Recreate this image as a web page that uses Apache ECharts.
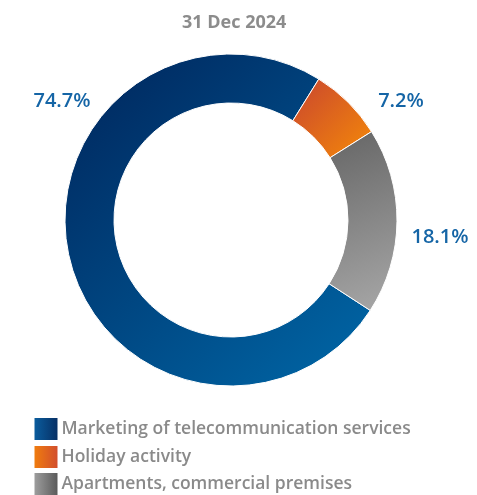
<!DOCTYPE html>
<html>
<head>
<meta charset="utf-8">
<script src="https://cdn.jsdelivr.net/npm/echarts@6/dist/echarts.min.js"></script>
<style>
  html, body { margin: 0; padding: 0; background: #ffffff; }
  #chart { width: 477px; height: 495px; }
</style>
</head>
<body>
<div id="chart"></div>
<script>
// Revenue structure by activity, 31 Dec 2024
const titleText = '31 Dec 2024';
const categories = [
  'Marketing of telecommunication services',
  'Holiday activity',
  'Apartments, commercial premises'
];
const shares = [74.7, 7.2, 18.1];

// Slice fills (diagonal gradients) and legend swatch fills (horizontal)
const sliceStops = [
  ['#00245a', '#0068a8'],
  ['#c9452f', '#f58a08'],
  ['#656565', '#a8a8a8']
];
const swatchStops = [
  ['#0b60a2', '#062c60'],
  ['#f2800c', '#cf4a2f'],
  ['#a3a3a3', '#555555']
];
// Label anchor points for each slice's percentage
const labelSpots = [
  [62, 101],
  [401, 101],
  [440, 237]
];
// Top edge of each legend row
const legendRowTops = [416, 444, 471];

const FONT = '"Open Sans", sans-serif';

function grad(stops, x2, y2) {
  return new echarts.graphic.LinearGradient(0, 0, x2, y2, [
    { offset: 0, color: stops[0] },
    { offset: 1, color: stops[1] }
  ]);
}

const chart = echarts.init(document.getElementById('chart'), null, { renderer: 'canvas' });

// One legend block per row so every row sits at its own fixed line
const legends = categories.map((name, i) => ({
  orient: 'vertical',
  left: 32.5,
  top: legendRowTops[i],
  padding: 0,
  itemWidth: 25,
  itemHeight: 24,
  icon: 'rect',
  selectedMode: false,
  textStyle: {
    fontFamily: FONT,
    fontSize: 17.5,
    fontWeight: 600,
    color: '#8a8a8a',
    padding: [2, 0, 0, -2]
  },
  data: [{
    name: name,
    itemStyle: { color: grad(swatchStops[i], 1, 0) }
  }]
}));

chart.setOption({
  animation: false,
  backgroundColor: '#ffffff',
  title: {
    text: titleText,
    left: 177,
    top: 9,
    textStyle: {
      fontFamily: FONT,
      fontSize: 18,
      fontWeight: 'bold',
      color: '#8c8c8c'
    }
  },
  legend: legends,
  series: [{
    type: 'pie',
    center: [231, 220],
    radius: [117, 166],
    startAngle: -33,
    clockwise: true,
    avoidLabelOverlap: false,
    itemStyle: { borderColor: '#ffffff', borderWidth: 1 },
    emphasis: { disabled: true },
    label: {
      show: true,
      position: 'outside',
      formatter: p => p.value.toFixed(1) + '%',
      fontFamily: FONT,
      fontSize: 20,
      fontWeight: 600,
      color: '#1565a6'
    },
    labelLine: { show: false },
    labelLayout: function (params) {
      const spot = labelSpots[params.dataIndex];
      return { x: spot[0], y: spot[1], align: 'center', verticalAlign: 'middle' };
    },
    data: categories.map((name, i) => ({
      name: name,
      value: shares[i],
      itemStyle: { color: grad(sliceStops[i], 1, 1) }
    }))
  }]
});
</script>
</body>
</html>
